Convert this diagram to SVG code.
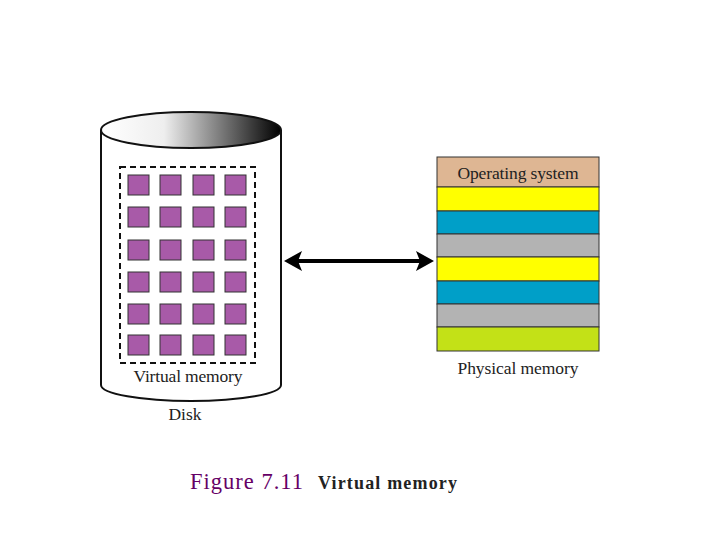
<svg xmlns="http://www.w3.org/2000/svg" width="720" height="540" viewBox="0 0 720 540">
<defs>
<linearGradient id="g" x1="0" x2="1" y1="0" y2="0"><stop offset="0" stop-color="#fff"/><stop offset="0.35" stop-color="#eee"/><stop offset="1" stop-color="#000"/></linearGradient>
<style>
.sq{fill:#a85aa8;stroke:#333;stroke-width:1}
.band{stroke:#333;stroke-width:1}
.t{font-family:"Liberation Serif",serif;font-size:17.5px;fill:#222}
</style>
</defs>
<rect width="720" height="540" fill="#fff"/>
<g id="disk">
<path d="M101 130 V385 A90 16 0 0 0 281 385 V130" fill="#fff" stroke="#111" stroke-width="2"/>
<ellipse cx="191" cy="130" rx="90" ry="18" fill="url(#g)" stroke="#111" stroke-width="2"/>
<rect x="120" y="167" width="135" height="196" fill="none" stroke="#111" stroke-width="2" stroke-dasharray="6,4"/>
<g>
<rect class="sq" x="128" y="175" width="21" height="20"/><rect class="sq" x="160" y="175" width="21" height="20"/><rect class="sq" x="193" y="175" width="21" height="20"/><rect class="sq" x="225" y="175" width="21" height="20"/>
<rect class="sq" x="128" y="207" width="21" height="20"/><rect class="sq" x="160" y="207" width="21" height="20"/><rect class="sq" x="193" y="207" width="21" height="20"/><rect class="sq" x="225" y="207" width="21" height="20"/>
<rect class="sq" x="128" y="240" width="21" height="20"/><rect class="sq" x="160" y="240" width="21" height="20"/><rect class="sq" x="193" y="240" width="21" height="20"/><rect class="sq" x="225" y="240" width="21" height="20"/>
<rect class="sq" x="128" y="272" width="21" height="20"/><rect class="sq" x="160" y="272" width="21" height="20"/><rect class="sq" x="193" y="272" width="21" height="20"/><rect class="sq" x="225" y="272" width="21" height="20"/>
<rect class="sq" x="128" y="304" width="21" height="20"/><rect class="sq" x="160" y="304" width="21" height="20"/><rect class="sq" x="193" y="304" width="21" height="20"/><rect class="sq" x="225" y="304" width="21" height="20"/>
<rect class="sq" x="128" y="335" width="21" height="20"/><rect class="sq" x="160" y="335" width="21" height="20"/><rect class="sq" x="193" y="335" width="21" height="20"/><rect class="sq" x="225" y="335" width="21" height="20"/>
</g>
<text class="t" x="188" y="382" text-anchor="middle" textLength="109">Virtual memory</text>
<text class="t" x="185" y="420" text-anchor="middle">Disk</text>
</g>
<g id="physical">
<rect class="band" x="437" y="157" width="162" height="30" fill="#deb693"/>
<rect class="band" x="437" y="187" width="162" height="24" fill="#ffff00"/>
<rect class="band" x="437" y="211" width="162" height="23" fill="#009fc8"/>
<rect class="band" x="437" y="234" width="162" height="23" fill="#b3b3b3"/>
<rect class="band" x="437" y="257" width="162" height="24" fill="#ffff00"/>
<rect class="band" x="437" y="281" width="162" height="23" fill="#009fc8"/>
<rect class="band" x="437" y="304" width="162" height="23" fill="#b3b3b3"/>
<rect class="band" x="437" y="327" width="162" height="24" fill="#c3e117"/>
<text class="t" x="518" y="179" text-anchor="middle" textLength="121">Operating system</text>
<text class="t" x="518" y="374" text-anchor="middle" textLength="121">Physical memory</text>
</g>
<g id="connectors">
<line x1="296" y1="261" x2="422" y2="261" stroke="#000" stroke-width="4"/>
<polygon points="284,261 302,251 298,261 302,271" fill="#000"/>
<polygon points="434,261 416,251 420,261 416,271" fill="#000"/>
</g>
<text x="190" y="489" font-family="Liberation Serif,serif" font-size="22.5" fill="#660066" textLength="113">Figure 7.11</text>
<text x="318" y="489" font-family="Liberation Serif,serif" font-size="18" font-weight="bold" fill="#222" textLength="139">Virtual memory</text>
</svg>
